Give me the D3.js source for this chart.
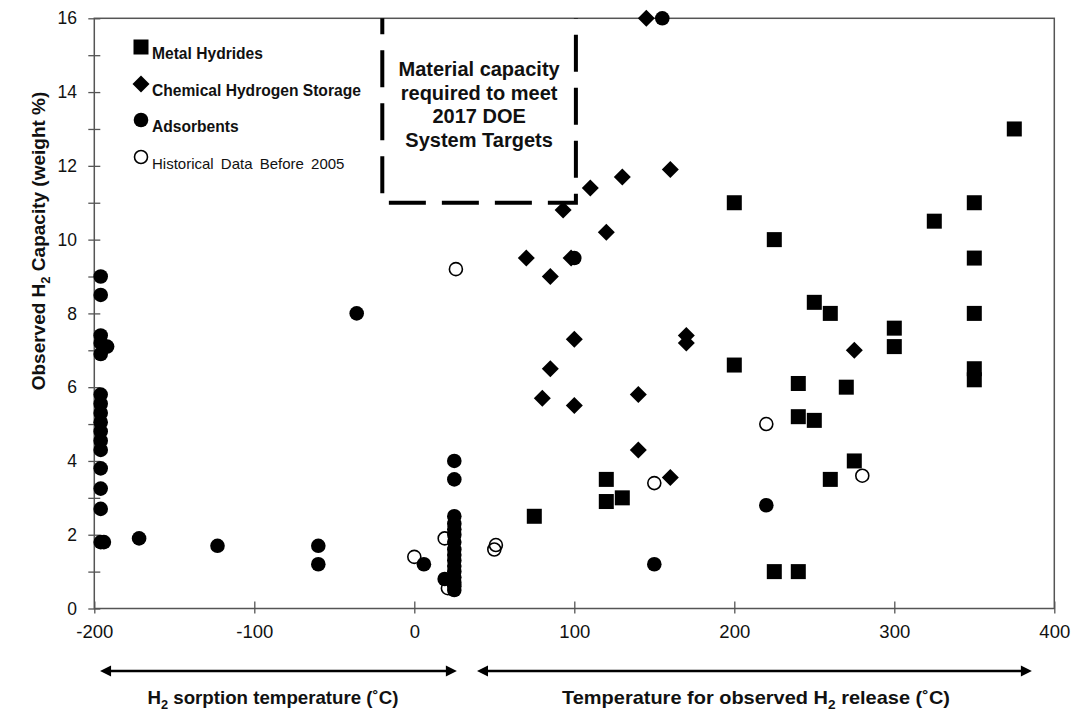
<!DOCTYPE html>
<html><head><meta charset="utf-8">
<script src="https://cdn.jsdelivr.net/npm/d3@7"></script>
<style>body{margin:0;background:#fff}svg{display:block;font-family:"Liberation Sans",Arial,sans-serif}</style>
</head><body><svg id="c" width="1078" height="711"></svg>
<script>
// ---- data (temperature °C, capacity wt%) ----
const metalHydrides = [[375,13],[200,11],[350,11],[325,10.5],[225,10],[350,9.5],[250,8.3],[260,8],[350,8],[300,7.6],[300,7.1],[200,6.6],[350,6.5],[350,6.2],[240,6.1],[270,6],[240,5.2],[250,5.1],[275,4],[260,3.5],[120,3.5],[130,3],[120,2.9],[75,2.5],[225,1],[240,1]];
const chemicalStorage = [[145,16],[160,11.9],[130,11.7],[110,11.4],[93,10.8],[120,10.2],[70,9.5],[98,9.5],[85,9],[170,7.4],[100,7.3],[170,7.2],[275,7],[85,6.5],[140,5.8],[80,5.7],[100,5.5],[140,4.3],[160,3.55]];
const adsorbents = [[-196,9],[-196,8.5],[-196,7.4],[-196,7.2],[-192,7.1],[-196,6.9],[-196,5.8],[-196,5.55],[-196,5.3],[-196,5.05],[-196,4.8],[-196,4.55],[-196,4.3],[-196,3.8],[-196,3.25],[-196,2.7],[-196,1.8],[-194,1.8],[-172,1.9],[-123,1.7],[-60,1.7],[-60,1.2],[-36,8],[6,1.2],[19,0.8],[25,4],[25,3.5],[25,2.5],[25,2.3],[25,2.15],[25,2.0],[25,1.8],[25,1.6],[25,1.45],[25,1.3],[25,1.15],[25,1.0],[25,0.85],[25,0.7],[25,0.6],[25,0.5],[100,9.5],[155,16],[150,1.2],[220,2.8]];
const historical = [[0,1.4],[19,1.9],[21,0.55],[50,1.6],[51,1.72],[26,9.2],[150,3.4],[220,5],[280,3.6]];
const xTicks = [-200,-100,0,100,200,300,400];
const yTicks = [0,1,2,3,4,5,6,7,8,9,10,11,12,13,14,15,16];
const legendLabels = ["Metal Hydrides","Chemical Hydrogen Storage","Adsorbents","Historical Data Before 2005"];
const targetBox = [[-20,16],[-20,11],[101,11],[101,16]];
const boxText = ["Material capacity","required to meet","2017 DOE","System Targets"];
const arrowSpans = [[-196.4,26.6],[39.2,386]];

const svg = d3.select("#c");
const x = d3.scaleLinear().domain([-200,400]).range([94.3,1054.3]);
const y = d3.scaleLinear().domain([0,16]).range([608.5,18.3]);

// frame
svg.append("rect").attr("x",x(-200)).attr("y",y(16)).attr("width",x(400)-x(-200)).attr("height",y(0)-y(16))
  .attr("fill","none").attr("stroke","#555").attr("stroke-width",1.5);

// axes
const gy = svg.append("g").attr("transform",`translate(${x(-200)},0)`)
  .call(d3.axisLeft(y).tickValues(yTicks).tickSize(6).tickPadding(11.3).tickFormat(d=>d%2===0?String(d):""));
gy.select(".domain").remove();
gy.selectAll(".tick line").attr("x1",6).attr("stroke","#555").attr("stroke-width",1.3);
gy.selectAll("text").attr("font-size",17.5).attr("fill","#111").attr("font-family","Liberation Sans, Arial, sans-serif");

const gx = svg.append("g").attr("transform",`translate(0,${y(0)})`)
  .call(d3.axisBottom(x).tickValues(xTicks).tickSize(5).tickPadding(11.5).tickFormat(d=>String(d)));
gx.select(".domain").remove();
gx.selectAll(".tick line").attr("y1",-7).attr("stroke","#555").attr("stroke-width",1.3);
gx.selectAll("text").attr("font-size",18.5).attr("fill","#111").attr("font-family","Liberation Sans, Arial, sans-serif");

// target box
svg.append("path").attr("d",d3.line().x(d=>x(d[0])).y(d=>y(d[1]))(targetBox))
  .attr("fill","none").attr("stroke","#000").attr("stroke-width",4)
  .attr("stroke-dasharray","37,16").attr("stroke-dashoffset",-32);
const bt = svg.append("text").attr("text-anchor","middle").attr("font-weight","bold").attr("font-size",20).attr("fill","#111");
boxText.forEach((t,i)=>bt.append("tspan").attr("x",(x(-20)+x(101))/2).attr("y",76+i*23.5).text(t));

// markers
function marker(g, type, px, py){
  if(type===0){ g.append("rect").attr("x",px-7.5).attr("y",py-7.5).attr("width",15).attr("height",15).attr("fill","#000"); }
  else if(type===1){ const s=8.5; g.append("path").attr("d",`M${px},${py-s}L${px+s},${py}L${px},${py+s}L${px-s},${py}Z`).attr("fill","#000"); }
  else if(type===2){ g.append("circle").attr("cx",px).attr("cy",py).attr("r",7.3).attr("fill","#000"); }
  else { g.append("circle").attr("cx",px).attr("cy",py).attr("r",6.5).attr("fill","none").attr("stroke","#000").attr("stroke-width",1.6); }
}
const pts = svg.append("g");
historical.forEach(d=>marker(pts,3,x(d[0]),y(d[1])));
metalHydrides.forEach(d=>marker(pts,0,x(d[0]),y(d[1])));
chemicalStorage.forEach(d=>marker(pts,1,x(d[0]),y(d[1])));
adsorbents.forEach(d=>marker(pts,2,x(d[0]),y(d[1])));

// legend
const lg = svg.append("g");
const legY = [47,84,120,157];
legendLabels.forEach((t,i)=>{
  marker(lg,i,141,legY[i]);
  lg.append("text").attr("x",152).attr("y",legY[i]+12).attr("font-size",i<3?15.6:15)
    .attr("font-weight",i<3?"bold":"normal").attr("word-spacing",i===3?3:0).attr("fill","#111").text(t);
});

// y label
const yl = svg.append("text").attr("transform","translate(45,241) rotate(-90)").attr("text-anchor","middle")
  .attr("font-weight","bold").attr("font-size",19).attr("fill","#111");
yl.append("tspan").text("Observed H");
yl.append("tspan").attr("font-size",13).attr("dy",5).text("2");
yl.append("tspan").attr("dy",-5).text(" Capacity (weight %)");

// arrows
const ay = 671;
arrowSpans.forEach(s=>{
  const a=x(s[0]), b=x(s[1]);
  svg.append("line").attr("x1",a+6).attr("x2",b-6).attr("y1",ay).attr("y2",ay).attr("stroke","#000").attr("stroke-width",2.5);
  svg.append("path").attr("d",`M${a},${ay}L${a+11},${ay-5.5}L${a+11},${ay+5.5}Z`).attr("fill","#000");
  svg.append("path").attr("d",`M${b},${ay}L${b-11},${ay-5.5}L${b-11},${ay+5.5}Z`).attr("fill","#000");
});
function subLabel(cx, parts, width){
  const t = svg.append("text").attr("x",cx).attr("y",704).attr("text-anchor","middle").attr("font-weight","bold")
    .attr("font-size",19).attr("fill","#111").attr("textLength",width).attr("lengthAdjust","spacingAndGlyphs");
  t.append("tspan").text(parts[0]);
  t.append("tspan").attr("font-size",13).attr("dy",5).text("2");
  t.append("tspan").attr("dy",-5).text(parts[1]);
}
subLabel(273,["H"," sorption temperature (˚C)"],251);
subLabel(756,["Temperature for observed H"," release (˚C)"],388);
</script></body></html>
